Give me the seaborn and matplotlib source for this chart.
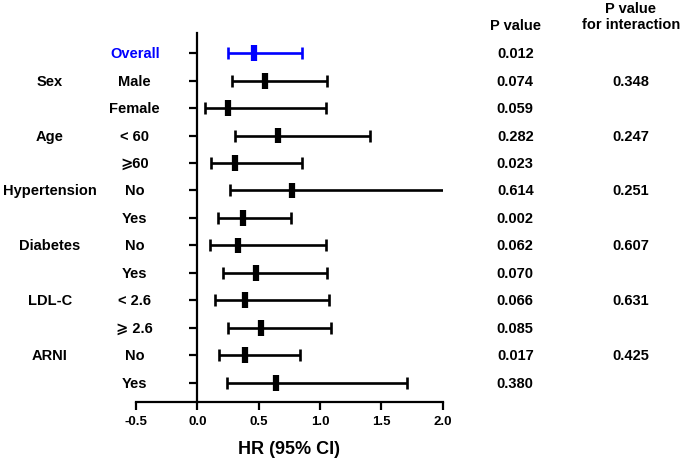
import seaborn as sns
import matplotlib.pyplot as plt
import pandas as pd

# subgroup rows (top to bottom)
groups = ["", "Sex", "", "Age", "", "Hypertension", "", "Diabetes", "", "LDL-C", "", "ARNI", ""]
subgroups = ["Overall", "Male", "Female", "< 60", "\u2a7e60", "No", "Yes",
             "No", "Yes", "< 2.6", "\u2a7e 2.6", "No", "Yes"]
hr = [0.46, 0.55, 0.25, 0.66, 0.31, 0.77, 0.37, 0.33, 0.48, 0.39, 0.52, 0.39, 0.64]
ci_low = [0.25, 0.28, 0.06, 0.31, 0.11, 0.27, 0.17, 0.10, 0.21, 0.14, 0.25, 0.18, 0.24]
ci_high = [0.85, 1.06, 1.05, 1.41, 0.85, 2.30, 0.76, 1.05, 1.06, 1.07, 1.09, 0.84, 1.71]
p_values = ["0.012", "0.074", "0.059", "0.282", "0.023", "0.614", "0.002",
            "0.062", "0.070", "0.066", "0.085", "0.017", "0.380"]
p_interaction = ["", "0.348", "", "0.247", "", "0.251", "", "0.607", "", "0.631", "", "0.425", ""]

df = pd.DataFrame({"row": range(len(hr)), "hr": hr, "lo": ci_low, "hi": ci_high})
df["kind"] = ["overall"] + ["sub"] * (len(hr) - 1)
colors = {"overall": "#0000ff", "sub": "black"}

sns.set_theme(style="ticks")
plt.rcParams["font.family"] = ["Liberation Sans", "DejaVu Sans"]
plt.rcParams["font.weight"] = "bold"
plt.rcParams["text.color"] = "black"
plt.rcParams["axes.labelcolor"] = "black"
plt.rcParams["xtick.color"] = "black"
plt.rcParams["ytick.color"] = "black"
plt.rcParams["axes.edgecolor"] = "black"

fig = plt.figure(figsize=(6.85, 4.64), dpi=100)
ax = fig.add_axes([0.1985, 0.1315, 0.448, 0.795])

# CI lines with caps
for kind, sub in df.groupby("kind"):
    ax.errorbar(sub["hr"], sub["row"],
                xerr=[sub["hr"] - sub["lo"], sub["hi"] - sub["hr"]],
                fmt="none", ecolor=colors[kind], elinewidth=1.9,
                capsize=4, capthick=1.9, zorder=2)

# point estimates
sns.scatterplot(data=df, x="hr", y="row", hue="kind", palette=colors,
                marker="|", s=130, linewidth=4.5, legend=False, ax=ax, zorder=3)

ax.set_xlim(-0.5, 2.0)
ax.set_ylim(12.7, -0.73)
ax.set_xticks([-0.5, 0.0, 0.5, 1.0, 1.5, 2.0])
ax.set_xticklabels(["-0.5", "0.0", "0.5", "1.0", "1.5", "2.0"], fontsize=9.5, fontweight="bold")
ax.set_yticks(df["row"])
ax.set_yticklabels([])
ax.spines["left"].set_position(("data", 0))
ax.spines["top"].set_visible(False)
ax.spines["right"].set_visible(False)
for s in ["left", "bottom"]:
    ax.spines[s].set_linewidth(1.6)
ax.tick_params(axis="both", width=1.6, length=6, color="black", labelcolor="black")
ax.set_xlabel("HR (95% CI)", fontsize=13, fontweight="bold", labelpad=9, color="black")
ax.set_ylabel("")

fs = 10.5
for i in range(len(hr)):
    c = colors[df["kind"][i]]
    ax.text(-1.20, i, groups[i], ha="center", va="center", fontsize=fs,
            fontweight="bold", color="black")
    ax.text(-0.51, i, subgroups[i], ha="center", va="center", fontsize=fs,
            fontweight="bold", color=c)
    ax.text(2.59, i, p_values[i], ha="center", va="center", fontsize=fs,
            fontweight="bold", color="black")
    ax.text(3.53, i, p_interaction[i], ha="center", va="center", fontsize=fs,
            fontweight="bold", color="black")

ax.text(2.59, -1.02, "P value", ha="center", va="center", fontsize=fs,
        fontweight="bold", color="black")
ax.text(3.53, -1.36, "P value\nfor interaction", ha="center", va="center",
        fontsize=fs, fontweight="bold", linespacing=1.2, color="black")

for t in ax.texts:
    t.set_clip_on(False)

fig.savefig("out.png", dpi=100)
